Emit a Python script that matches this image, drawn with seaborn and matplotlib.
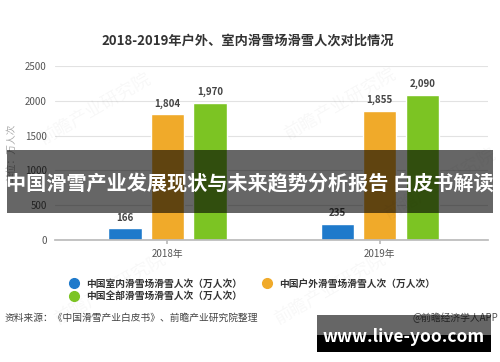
import pandas as pd
import numpy as np
import seaborn as sns
import matplotlib.pyplot as plt
from matplotlib.lines import Line2D
from matplotlib.patches import Rectangle

years = ['2018年', '2019年']
series = ['中国室内滑雪场滑雪人次（万人次）', '中国户外滑雪场滑雪人次（万人次）', '中国全部滑雪场滑雪人次（万人次）']
indoor = [166, 235]
outdoor = [1804, 1855]
total = [1970, 2090]
colors = ['#1f7acb', '#f0aa2a', '#7cc423']

df = pd.DataFrame({
    'year': years * 3,
    'series': [series[0]] * 2 + [series[1]] * 2 + [series[2]] * 2,
    'value': indoor + outdoor + total,
})

sns.set_theme(style='white')
plt.rcParams['font.family'] = ['Noto Sans CJK SC', 'DejaVu Sans']

W, H = 500, 362
fig = plt.figure(figsize=(5, 3.62), dpi=100)
ax = fig.add_axes([55 / W, (H - 240) / H, (488 - 55) / W, (240 - 66) / H])

sns.barplot(data=df, x='year', y='value', hue='series', palette=colors,
            width=0.6, gap=0.22, ax=ax, legend=False, saturation=1)

ax.set_ylim(0, 2500)
ax.set_xlim(-0.53, 1.51)
ax.set_yticks(range(0, 2501, 500))
ax.yaxis.grid(True, color='#e2e2e2', lw=0.8)
ax.set_axisbelow(True)
for s in ['top', 'right', 'left']:
    ax.spines[s].set_visible(False)
ax.spines['bottom'].set_color('#bbbbbb')
ax.tick_params(axis='y', length=0, labelsize=7, labelcolor='#555555', pad=6)
ax.tick_params(axis='x', length=3, color='#bbbbbb', labelsize=7, labelcolor='#555555', bottom=True)
ax.set_xlabel('')
ax.set_ylabel('单位：万人次', fontsize=7, color='#aaaaaa', labelpad=6)

for cont in ax.containers:
    vals = [b.get_height() for b in cont]
    ax.bar_label(cont, labels=[f'{v:,.0f}' for v in vals], padding=4,
                 fontsize=7, fontweight='bold', color='#444444')

fig.text(248 / W, 1 - 41 / H, '2018-2019年户外、室内滑雪场滑雪人次对比情况',
         ha='center', va='center', fontsize=9.5, fontweight='bold', color='#333333')

# legend, row-major order
handles = [Line2D([], [], marker='o', ls='', color=c, markersize=7) for c in colors]
order = [0, 2, 1]
fig.legend([handles[i] for i in order], [series[i] for i in order],
           loc='upper left', bbox_to_anchor=(56 / W, 1 - 270 / H),
           ncol=2, frameon=False, handletextpad=0.2, columnspacing=1.6,
           labelspacing=0.25, prop={'weight': 'bold', 'size': 7}, labelcolor='#333333')

fig.text(5 / W, 1 - 318 / H, '资料来源：《中国滑雪产业白皮书》、前瞻产业研究院整理',
         ha='left', va='center', fontsize=7, color='#444444')
fig.text(498 / W, 1 - 318 / H, '@前瞻经济学人APP',
         ha='right', va='center', fontsize=7, color='#555555')

# faint watermarks
for (wx, wy) in [(95, 110), (340, 105), (440, 185), (110, 290), (330, 290)]:
    fig.text(wx / W, 1 - wy / H, '前瞻产业研究院', rotation=30, fontsize=13,
             color='#000000', alpha=0.03, ha='center', va='center')

# banner overlay
fig.patches.append(Rectangle((7 / W, 1 - 213 / H), 486 / W, 63 / H, lw=0,
                             transform=fig.transFigure, facecolor='black', alpha=0.6, zorder=5))
fig.text(250 / W, 1 - 184 / H, '中国滑雪产业发展现状与未来趋势分析报告 白皮书解读',
         ha='center', va='center', fontsize=14.5, fontweight='bold', color='white', zorder=6)

# url box
fig.patches.append(Rectangle((317 / W, 1 - 335 / H), 174 / W, 20 / H, lw=0,
                             transform=fig.transFigure, facecolor='black', alpha=0.6, zorder=5))
fig.patches.append(Rectangle((317 / W, 1 - 352 / H), 174 / W, 17 / H, lw=0,
                             transform=fig.transFigure, facecolor='black', zorder=5))
fig.text(404 / W, 1 - 337 / H, 'www.live-yoo.com', ha='center', va='center',
         fontsize=12.5, fontweight='bold', color='white', zorder=6)

fig.savefig('out.png', dpi=100)
